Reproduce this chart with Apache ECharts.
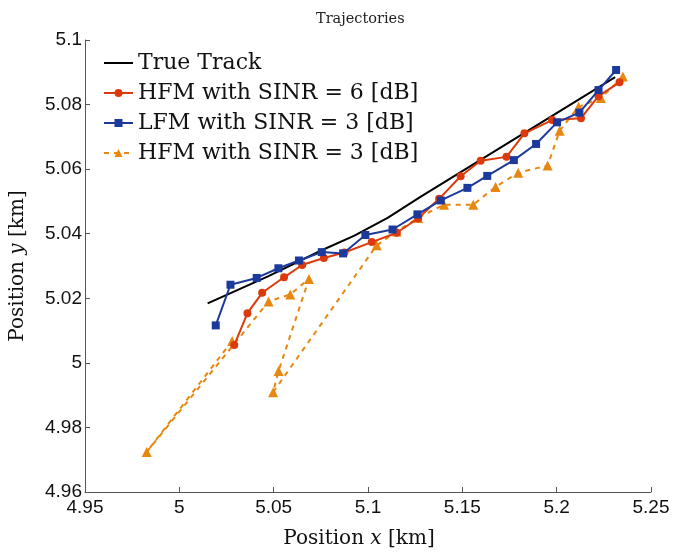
<!DOCTYPE html>
<html>
<head>
<meta charset="utf-8">
<script src="https://cdn.jsdelivr.net/npm/echarts@6/dist/echarts.min.js"></script>
<style>
  html, body { margin: 0; padding: 0; background: #fff; }
  #chart { width: 673px; height: 554px; }
</style>
</head>
<body>
<div id="chart"></div>
<script>
// Axis ranges and ticks
const xMin = 4.95, xMax = 5.25, xStep = 0.05;
const yMin = 4.96, yMax = 5.1, yStep = 0.02;

// Series names
const seriesNames = [
  'True Track',
  'HFM with SINR = 6 [dB]',
  'LFM with SINR = 3 [dB]',
  'HFM with SINR = 3 [dB]'
];

// True track (km)
const trueX = [5.0150, 5.0470, 5.0752, 5.0928, 5.1104, 5.1280, 5.2310];
const trueY = [5.0184, 5.0268, 5.0348, 5.0394, 5.0449, 5.0515, 5.0885];

// HFM estimate, SINR = 6 dB
const hfm6X = [5.0291, 5.0361, 5.0439, 5.0555, 5.0651, 5.0766, 5.0875, 5.1020, 5.1153, 5.1266,
               5.1377, 5.1491, 5.1597, 5.1734, 5.1829, 5.1976, 5.2129, 5.2222, 5.2333];
const hfm6Y = [5.0055, 5.0154, 5.0217, 5.0265, 5.0303, 5.0325, 5.0342, 5.0374, 5.0403, 5.0448,
               5.0508, 5.0578, 5.0626, 5.0638, 5.0711, 5.0752, 5.0758, 5.0826, 5.0869];

// LFM estimate, SINR = 3 dB
const lfm3X = [5.0193, 5.0271, 5.0410, 5.0525, 5.0634, 5.0755, 5.0868, 5.0986, 5.1130, 5.1262,
               5.1386, 5.1527, 5.1632, 5.1773, 5.1891, 5.2002, 5.2120, 5.2222, 5.2315];
const lfm3Y = [5.0116, 5.0242, 5.0263, 5.0293, 5.0317, 5.0343, 5.0339, 5.0396, 5.0413, 5.0460,
               5.0503, 5.0542, 5.0579, 5.0628, 5.0678, 5.0745, 5.0775, 5.0845, 5.0907];

// HFM estimate, SINR = 3 dB
const hfm3X = [5.0280, 4.9827, 5.0473, 5.0588, 5.0687, 5.0526, 5.0497, 5.1046, 5.1152, 5.1266,
               5.1403, 5.1558, 5.1676, 5.1796, 5.1952, 5.2016, 5.2116, 5.2234, 5.2351];
const hfm3Y = [5.0068, 4.9724, 5.0190, 5.0212, 5.0260, 4.9975, 4.9909, 5.0364, 5.0407, 5.0449,
               5.0490, 5.0490, 5.0545, 5.0589, 5.0611, 5.0719, 5.0793, 5.0820, 5.0887];

const pairs = (xs, ys) => xs.map((x, i) => [x, ys[i]]);

const serif = 'DejaVu Serif';
const sans = 'Liberation Sans';
const axisColor = '#555';
const tickFmt = v => String(parseFloat(Number(v).toFixed(3)));

const nameRich = {
  r: { fontFamily: serif, fontSize: 20, color: '#111' },
  i: { fontFamily: serif, fontSize: 20, fontStyle: 'italic', color: '#111' }
};

const chart = echarts.init(document.getElementById('chart'), null, { renderer: 'canvas' });

chart.setOption({
  animation: false,
  backgroundColor: '#fff',
  title: {
    text: 'Trajectories',
    left: 311,
    top: 7,
    textStyle: { fontFamily: serif, fontSize: 14.5, fontWeight: 'normal', color: '#222' }
  },
  legend: {
    orient: 'vertical',
    left: 103,
    top: 52,
    padding: 0,
    itemWidth: 29,
    itemHeight: 10,
    itemGap: 8,
    data: [
      { name: seriesNames[0], itemStyle: { opacity: 0 } },
      { name: seriesNames[1] },
      { name: seriesNames[2] },
      { name: seriesNames[3] }
    ],
    textStyle: { fontFamily: serif, fontSize: 22, color: '#111', lineHeight: 22 }
  },
  grid: { left: 83, right: 22, top: 40, bottom: 52, containLabel: false },
  xAxis: {
    type: 'value',
    min: xMin, max: xMax, interval: xStep,
    name: '{r|Position }{i|x}{r| [km]}',
    nameLocation: 'middle',
    nameGap: 37,
    nameTextStyle: { rich: nameRich, padding: [0, 18, 0, 0] },
    axisLine: { show: true, onZero: false, lineStyle: { color: axisColor, width: 1 } },
    axisTick: { show: true, inside: true, length: 5, lineStyle: { color: axisColor } },
    axisLabel: { formatter: tickFmt, fontFamily: sans, fontSize: 19, color: '#111', margin: 6 },
    splitLine: { show: false }
  },
  yAxis: {
    type: 'value',
    min: yMin, max: yMax, interval: yStep,
    name: '{r|Position }{i|y}{r| [km]}',
    nameLocation: 'middle',
    nameGap: 57,
    nameRotate: 90,
    nameTextStyle: { rich: nameRich },
    axisLine: { show: true, onZero: false, lineStyle: { color: axisColor, width: 1 } },
    axisTick: { show: true, inside: true, length: 5, lineStyle: { color: axisColor } },
    axisLabel: { formatter: tickFmt, fontFamily: sans, fontSize: 19, color: '#111', margin: 3 },
    splitLine: { show: false }
  },
  series: [
    {
      name: seriesNames[0], type: 'line', data: pairs(trueX, trueY),
      symbol: 'none', color: '#000',
      lineStyle: { color: '#000', width: 2 }, z: 2
    },
    {
      name: seriesNames[1], type: 'line', data: pairs(hfm6X, hfm6Y),
      symbol: 'circle', symbolSize: 8, color: '#dc3a0c',
      lineStyle: { color: '#dc3a0c', width: 2 }, z: 4
    },
    {
      name: seriesNames[2], type: 'line', data: pairs(lfm3X, lfm3Y),
      symbol: 'rect', symbolSize: 8, color: '#1c3a9c',
      lineStyle: { color: '#1c3a9c', width: 2 }, z: 5
    },
    {
      name: seriesNames[3], type: 'line', data: pairs(hfm3X, hfm3Y),
      symbol: 'triangle', symbolSize: 10, color: '#e8870f',
      lineStyle: { color: '#e8870f', width: 2, type: [5, 5] }, z: 3
    }
  ]
});
</script>
</body>
</html>
